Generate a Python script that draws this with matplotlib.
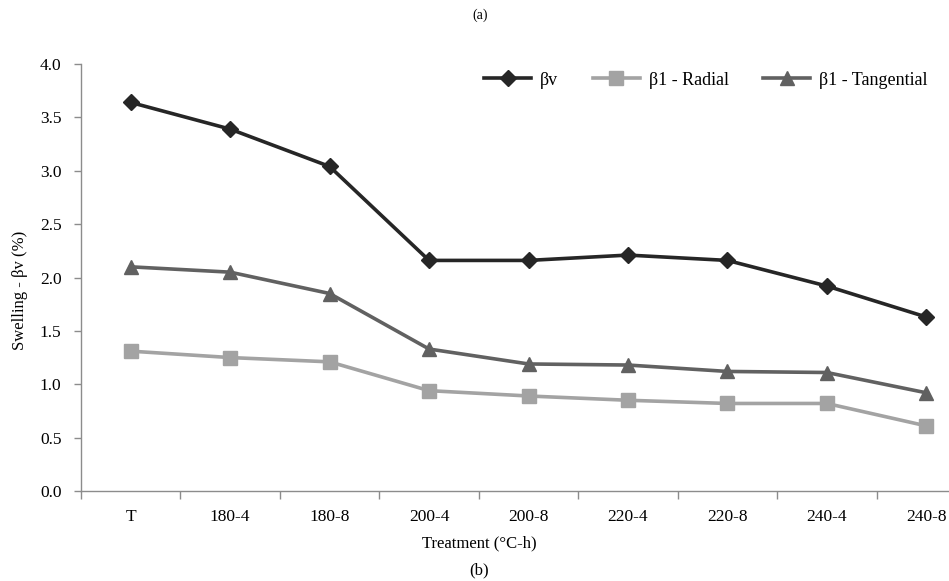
import numpy as np
import matplotlib
matplotlib.use('Agg')
from matplotlib import pyplot as plt
from matplotlib.ticker import FixedLocator, NullFormatter

plt.rcParams['font.family'] = ['Liberation Serif', 'DejaVu Serif']

treatments = ['T', '180-4', '180-8', '200-4', '200-8', '220-4', '220-8', '240-4', '240-8']
beta_v = [3.64, 3.39, 3.04, 2.16, 2.16, 2.21, 2.16, 1.92, 1.63]
beta_radial = [1.31, 1.25, 1.21, 0.94, 0.89, 0.85, 0.82, 0.82, 0.61]
beta_tangential = [2.10, 2.05, 1.85, 1.33, 1.19, 1.18, 1.12, 1.11, 0.92]

fig = plt.figure(figsize=(9.49, 5.81), dpi=100)
# axis runs a bit past the right edge of the picture, as in the original
ax = fig.add_axes([81 / 949, 90 / 581, 895 / 949, 427 / 581])

x = np.arange(len(treatments))
ax.plot(x, beta_v, '-', color='#262626', lw=2.6, marker='D', ms=8.5, label='\u03b2v', clip_on=False)
ax.plot(x, beta_radial, '-', color='#a3a3a3', lw=2.6, marker='s', ms=10, label='\u03b21 - Radial', clip_on=False)
ax.plot(x, beta_tangential, '-', color='#616161', lw=2.6, marker='^', ms=10, label='\u03b21 - Tangential', clip_on=False)

ax.set_xlim(-0.5, len(treatments) - 0.5)
ax.set_ylim(0, 4.0)
yt = np.arange(0, 4.01, 0.5)
ax.set_yticks(yt)
ax.set_yticklabels(['%.1f' % v for v in yt])
ax.set_xticks(x)
ax.set_xticklabels(treatments)
ax.xaxis.set_minor_locator(FixedLocator(np.arange(-0.5, len(treatments), 1.0)))
ax.xaxis.set_minor_formatter(NullFormatter())
ax.tick_params(axis='x', which='major', length=0, pad=13, labelsize=12.5)
ax.tick_params(axis='x', which='minor', length=6, color='#8c8c8c', width=1)
ax.tick_params(axis='y', length=5, color='#8c8c8c', width=1, labelsize=12.5, pad=9)

for s in ['top', 'right']:
    ax.spines[s].set_visible(False)
for s in ['left', 'bottom']:
    ax.spines[s].set_color('#8c8c8c')
    ax.spines[s].set_linewidth(1)

ax.set_ylabel('Swelling - \u03b2v (%)', fontsize=12)
ax.yaxis.set_label_coords(-0.059, 0.47)
fig.text(0.505, 0.065, 'Treatment (\u00b0C-h)', ha='center', va='center', fontsize=12)
fig.text(0.505, 0.019, '(b)', ha='center', va='center', fontsize=12)
fig.text(0.506, 0.974, '(a)', ha='center', va='center', fontsize=10)

ax.legend(loc='upper right', bbox_to_anchor=(0.964, 1.02), ncol=3, frameon=False,
          fontsize=13, handlelength=2.6, columnspacing=1.9, handletextpad=0.5)

plt.savefig('out.png', dpi=100)
plt.close()
